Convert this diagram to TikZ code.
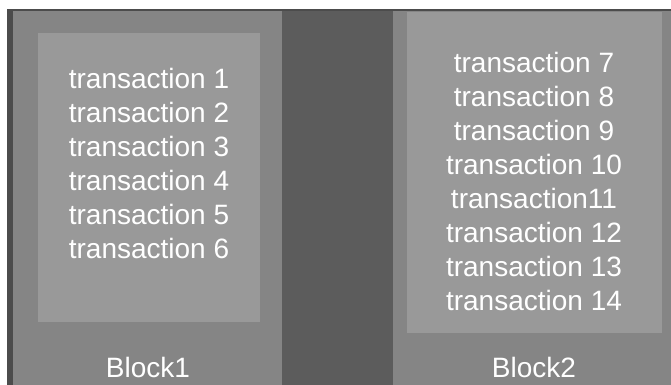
\documentclass[tikz,border=0pt]{standalone}
\usepackage{fontspec}
\setmainfont{Liberation Sans}
\definecolor{blockgray}{gray}{0.52}
\definecolor{gapgray}{gray}{0.36}
\definecolor{innergray}{gray}{0.60}
\definecolor{edgegray}{gray}{0.30}
\usetikzlibrary{positioning}

\begin{document}
\begin{tikzpicture}[x=0.5pt, y=-0.5pt,
  txlist/.style={text=white, align=center, inner sep=0pt, font=\fontsize{14}{17}\selectfont},
  blocklbl/.style={text=white, inner sep=0pt, font=\fontsize{14}{17}\selectfont}
]
  \useasboundingbox (0,0) rectangle (671,385);
  \fill[white] (0,0) rectangle (671,385);

  % outer blocks and the gap between them
  \fill[blockgray] (7,10) rectangle (282,385);
  \fill[edgegray] (7,10) rectangle (13,385);
  \fill[gapgray] (282,10) rectangle (393,385);
  \fill[blockgray] (393,10) rectangle (671,385);
  \draw[edgegray, line width=1pt] (7,10) -- (671,10);

  % inner boxes
  \fill[innergray] (38,33) rectangle (260,322);
  \fill[innergray] (407,12) rectangle (662,333);

  \node[txlist] (txA) at (149,163) {transaction 1\\transaction 2\\transaction 3\\transaction 4\\transaction 5\\transaction 6};
  \node[txlist] (txB) at (534,181) {transaction 7\\transaction 8\\transaction 9\\transaction 10\\transaction11\\transaction 12\\transaction 13\\transaction 14};

  \node[blocklbl] (lblA) at (148,367) {Block1};
  \node[blocklbl] (lblB) at (534,367) {Block2};
\end{tikzpicture}
\end{document}
